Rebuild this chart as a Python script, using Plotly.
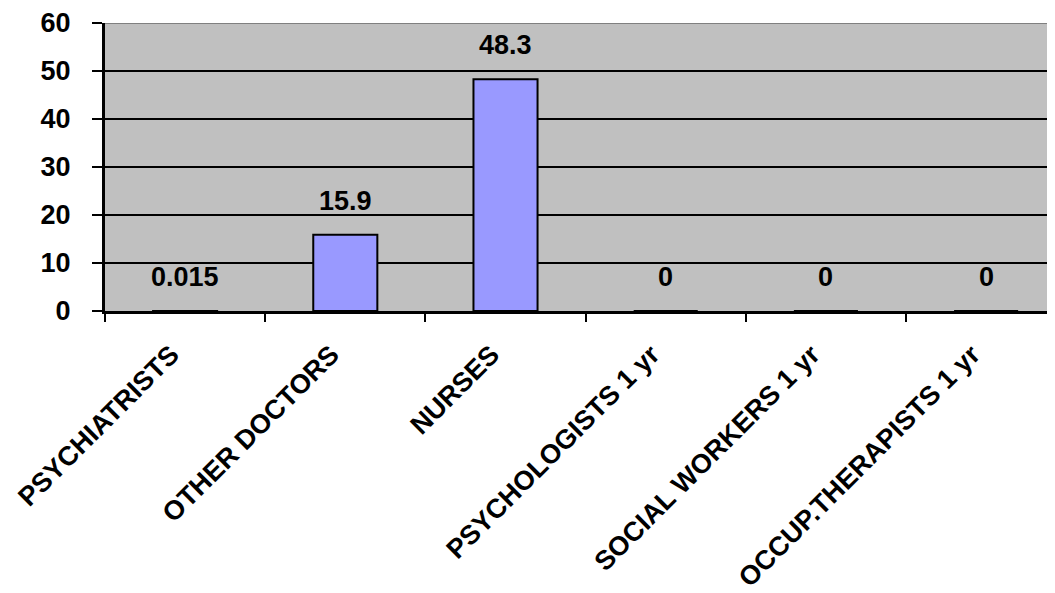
import plotly.graph_objects as go

categories = ["PSYCHIATRISTS", "OTHER DOCTORS", "NURSES", "PSYCHOLOGISTS 1 yr",
              "SOCIAL WORKERS 1 yr", "OCCUP.THERAPISTS 1 yr"]
values = [0.015, 15.9, 48.3, 0, 0, 0]
value_labels = ["0.015", "15.9", "48.3", "0", "0", "0"]
y_ticks = [0, 10, 20, 30, 40, 50, 60]

FONT = "Liberation Sans, Arial, sans-serif"
FS = 27

fig = go.Figure()
fig.add_trace(go.Bar(
    x=categories, y=values,
    marker=dict(color="#9999FF", line=dict(color="black", width=2)),
    width=0.4,
    hoverinfo="skip",
))

for c, v, t in zip(categories, values, value_labels):
    fig.add_annotation(x=c, y=v, text=f"<b>{t}</b>", showarrow=False,
                       yanchor="bottom", yshift=17,
                       font=dict(family=FONT, size=FS, color="black"))

# gray top border of plot area
fig.add_shape(type="line", xref="paper", yref="y", x0=0, x1=1, y0=60, y1=60,
              line=dict(color="#808080", width=2), layer="above")

fig.update_layout(
    width=1047, height=585,
    margin=dict(l=97, r=0, t=15, b=279),
    paper_bgcolor="white", plot_bgcolor="#C0C0C0",
    showlegend=False,
    font=dict(family=FONT, size=FS, color="black"),
    xaxis=dict(
        range=[-0.5, 5.43],
        tickangle=-45,
        tickson="boundaries",
        ticks="outside", ticklen=8, tickwidth=2, tickcolor="black",
        showline=True, linecolor="black", linewidth=3,
        showgrid=False,
        ticklabelstandoff=14,
        ticklabelshift=-14,
        tickfont=dict(family=FONT, size=FS, color="black", weight="bold"),
    ),
    yaxis=dict(
        range=[0, 60],
        tickvals=y_ticks,
        ticks="outside", ticklen=10, tickwidth=2, tickcolor="black",
        showline=True, linecolor="black", linewidth=3,
        showgrid=True, gridcolor="black", gridwidth=2,
        zeroline=False,
        ticklabelstandoff=16,
        tickfont=dict(family=FONT, size=FS, color="black", weight="bold"),
    ),
)

fig.write_html("out.html")
